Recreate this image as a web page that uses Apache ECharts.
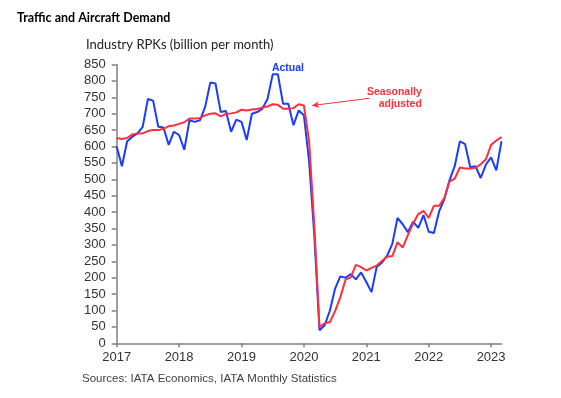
<!DOCTYPE html>
<html>
<head>
<meta charset="utf-8">
<script src="https://cdn.jsdelivr.net/npm/echarts@6/dist/echarts.min.js"></script>
<style>
html, body { margin: 0; padding: 0; background: #fff; }
#main { width: 561px; height: 398px; }
</style>
</head>
<body>
<div id="main"></div>
<script>
// monthly data, Jan 2017 .. Mar 2023
var startYear = 2017;
var yearTicks = [2017, 2018, 2019, 2020, 2021, 2022, 2023];

var actual = [
    600, 540, 615, 630, 640, 660, 745, 740, 660, 658, 605, 645,
    635, 590, 680, 675, 680, 720, 795, 792, 705, 708, 645, 682,
    675, 620, 700, 705, 715, 745, 820, 820, 730, 730, 665, 710,
    695, 555, 330, 40, 55, 100, 167, 204, 200, 211, 195, 216,
    187, 156, 233, 246, 267, 303, 382, 363, 339, 371, 352, 391,
    340, 336, 402, 439, 497, 540, 616, 607, 537, 540, 504, 545,
    567, 527, 616
];
var seasonal = [
    626, 623, 626, 637, 640, 640, 647, 650, 650, 654, 662, 664,
    669, 674, 685, 685, 687, 695, 700, 701, 692, 699, 701, 704,
    712, 710, 713, 714, 719, 722, 729, 727, 715, 715, 717, 729,
    725, 616, 360, 50, 61, 65, 98, 140, 194, 201, 239, 232,
    222, 230, 237, 251, 264, 266, 308, 292, 330, 365, 394, 404,
    382, 419, 419, 443, 493, 502, 536, 533, 533, 535, 546, 561,
    605, 618, 629
];

function toPairs(arr) {
    return arr.map(function (v, i) { return [startYear + i / 12, v]; });
}

var myChart = echarts.init(document.getElementById('main'));

var option = {
    animation: false,
    title: [{
        text: 'Traffic and Aircraft Demand',
        left: 12, top: 6,
        textStyle: { fontFamily: 'Lato', fontWeight: 'bold', fontSize: 12.5, color: '#000' }
    }, {
        text: 'Industry RPKs (billion per month)',
        left: 81, top: 33,
        textStyle: { fontFamily: 'Lato', fontWeight: 'normal', fontSize: 13, color: '#222' }
    }, {
        text: 'Sources: IATA Economics, IATA Monthly Statistics',
        left: 77, top: 368,
        textStyle: { fontFamily: 'Liberation Sans', fontWeight: 'normal', fontSize: 11.5, color: '#3a3f4a' }
    }],
    grid: { left: 116.7, right: 59.5, top: 64.5, bottom: 54.7 },
    xAxis: {
        type: 'value',
        min: startYear,
        max: startYear + (actual.length - 1) / 12,
        interval: 1,
        splitLine: { show: false },
        axisLine: { show: true, lineStyle: { color: '#808080', width: 1.5 } },
        axisTick: { show: true, length: 4, customValues: yearTicks, lineStyle: { color: '#808080', width: 1.5 } },
        axisLabel: {
            customValues: yearTicks,
            formatter: function (v) { return String(v); },
            margin: 8, fontFamily: 'Liberation Sans', fontSize: 13, color: '#333'
        }
    },
    yAxis: {
        type: 'value',
        min: 0, max: 850, interval: 50,
        splitLine: { show: false },
        axisLine: { show: true, lineStyle: { color: '#808080', width: 1.5 } },
        axisTick: { show: true, length: 5, lineStyle: { color: '#808080', width: 1.5 } },
        axisLabel: { margin: 11, fontFamily: 'Liberation Sans', fontSize: 13, color: '#333' }
    },
    series: [{
        name: 'Actual',
        type: 'line',
        data: toPairs(actual),
        showSymbol: false,
        lineStyle: { color: '#1a3cff', width: 2 },
        itemStyle: { color: '#1a3cff' },
        markPoint: {
            symbol: 'circle', symbolSize: 0,
            label: {
                show: true, position: 'inside', formatter: 'Actual',
                fontFamily: 'Liberation Sans', fontWeight: 'bold', fontSize: 10.5, color: '#1a3cff'
            },
            data: [{ coord: [2019.745, 840] }]
        }
    }, {
        name: 'Seasonally adjusted',
        type: 'line',
        data: toPairs(seasonal),
        showSymbol: false,
        lineStyle: { color: '#ff2f3c', width: 2 },
        itemStyle: { color: '#ff2f3c' },
        markPoint: {
            symbol: 'circle', symbolSize: 0,
            label: {
                show: true, position: 'inside', formatter: 'Seasonally\nadjusted',
                align: 'right', lineHeight: 12,
                fontFamily: 'Liberation Sans', fontWeight: 'bold', fontSize: 10.5, color: '#ff2f3c'
            },
            data: [{ coord: [2021.89, 749] }]
        },
        markLine: {
            silent: true,
            symbol: ['none', 'arrow'],
            symbolSize: [5, 7],
            label: { show: false },
            lineStyle: { color: '#ff2f3c', width: 1, type: 'solid' },
            data: [[{ coord: [2021.05, 747] }, { coord: [2020.13, 725] }]]
        }
    }]
};

myChart.setOption(option);
</script>
</body>
</html>
